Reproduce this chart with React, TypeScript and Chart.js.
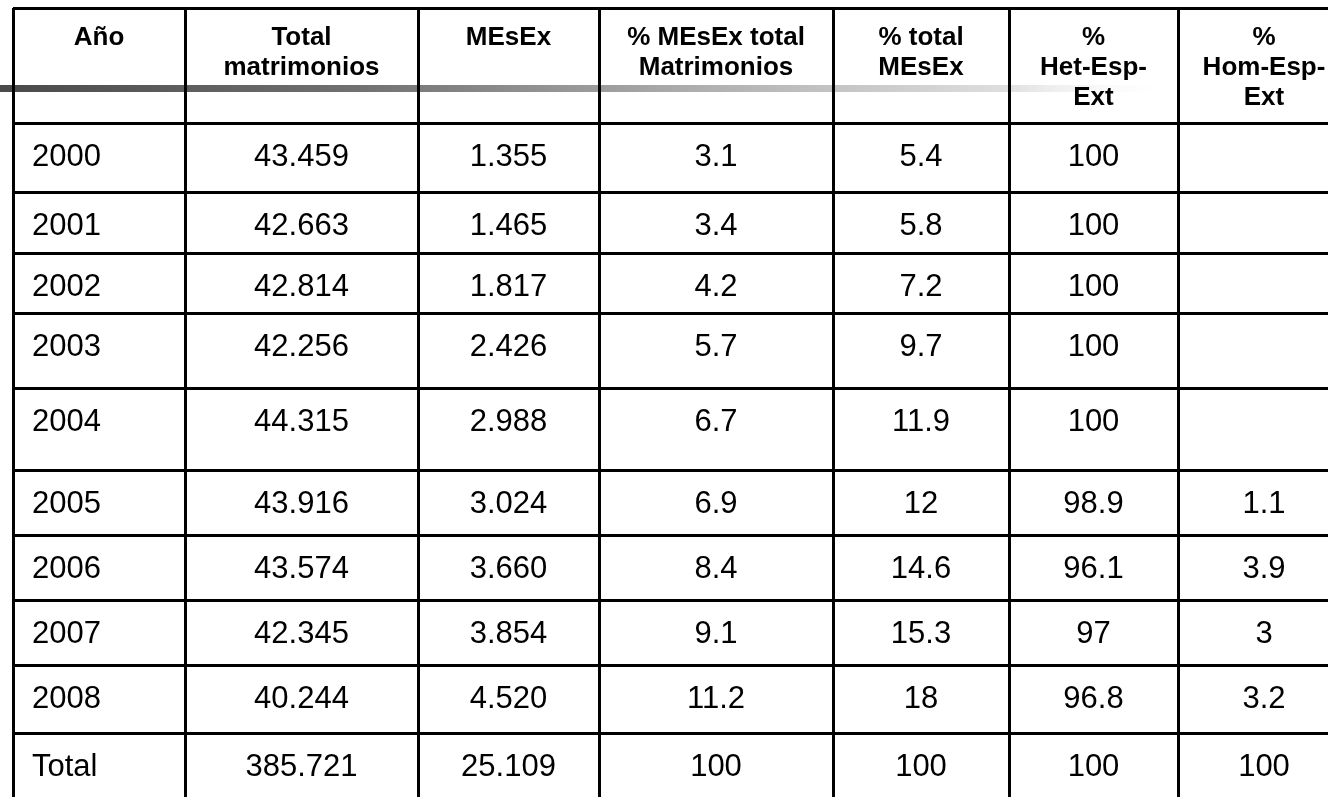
import React, { useEffect, useRef } from "react";
import { Chart, registerables } from "chart.js";

Chart.register(...registerables);

// ---------- data ----------
const headerLabels: string[][] = [
  ["Año"],
  ["Total", "matrimonios"],
  ["MEsEx"],
  ["% MEsEx total", "Matrimonios"],
  ["% total", "MEsEx"],
  ["%", "Het-Esp-", "Ext"],
  ["%", "Hom-Esp-", "Ext"],
];
const years: string[] = ["2000", "2001", "2002", "2003", "2004", "2005", "2006", "2007", "2008", "Total"];
const totalMatrimonios: number[] = [43459, 42663, 42814, 42256, 44315, 43916, 43574, 42345, 40244, 385721];
const mesex: number[] = [1355, 1465, 1817, 2426, 2988, 3024, 3660, 3854, 4520, 25109];
const pctMesexMatrimonios: number[] = [3.1, 3.4, 4.2, 5.7, 6.7, 6.9, 8.4, 9.1, 11.2, 100];
const pctTotalMesex: number[] = [5.4, 5.8, 7.2, 9.7, 11.9, 12, 14.6, 15.3, 18, 100];
const pctHetEspExt: number[] = [100, 100, 100, 100, 100, 98.9, 96.1, 97, 96.8, 100];
const pctHomEspExt: (number | null)[] = [null, null, null, null, null, 1.1, 3.9, 3, 3.2, 100];

// ---------- layout ----------
const W = 1328;
const H = 797;
const LEFT = 13;
const TOP = 8;
const colWidths = [172, 233, 181, 234, 176, 169, 172];
const rowHeights = [115, 69, 61, 60, 75, 82, 65, 65, 65, 68, 80];
const DATA_FONT = "31px 'Liberation Sans', Arial, sans-serif";
const HEAD_FONT = "bold 26px 'Liberation Sans', Arial, sans-serif";

const cum = (arr: number[]) => {
  const out = [0];
  arr.forEach((v) => out.push(out[out.length - 1] + v));
  return out;
};
const colEdges = cum(colWidths);
const rowEdges = cum(rowHeights);
const X_MAX = W - LEFT;
const Y_MAX = H - TOP;

const fmtThousands = (n: number) => String(n).replace(/\B(?=(\d{3})+(?!\d))/g, ".");
const fmt = (n: number | null) => (n === null ? "" : String(n));

const columnTexts: string[][] = [
  years,
  totalMatrimonios.map(fmtThousands),
  mesex.map(fmtThousands),
  pctMesexMatrimonios.map(fmt),
  pctTotalMesex.map(fmt),
  pctHetEspExt.map(fmt),
  pctHomEspExt.map(fmt),
];

const tablePlugin = {
  id: "tableText",
  beforeDraw(chart: any) {
    const { ctx } = chart;
    const ys = chart.scales.y;
    const y0 = ys.getPixelForValue(77);
    const y1 = ys.getPixelForValue(84);
    const g = ctx.createLinearGradient(0, 0, 1180, 0);
    g.addColorStop(0, "#4a4a4a");
    g.addColorStop(0.3, "#707070");
    g.addColorStop(0.6, "#b0b0b0");
    g.addColorStop(0.85, "#dedede");
    g.addColorStop(1, "rgba(255,255,255,0)");
    ctx.save();
    ctx.fillStyle = g;
    ctx.fillRect(0, y0, 1180, y1 - y0);
    ctx.restore();
  },
  afterDatasetsDraw(chart: any) {
    const { ctx } = chart;
    const xs = chart.scales.x;
    ctx.save();
    ctx.fillStyle = "#000";
    ctx.textBaseline = "alphabetic";
    chart.data.datasets.forEach((ds: any, di: number) => {
      const meta = chart.getDatasetMeta(di);
      meta.data.forEach((el: any, j: number) => {
        const lines: string[] = ds.cellText[j];
        const isHeader = ds.isHeader;
        ctx.font = isHeader ? HEAD_FONT : DATA_FONT;
        let x = el.x;
        if (!isHeader && ds.colIndex === 0) {
          ctx.textAlign = "left";
          x = xs.getPixelForValue(colEdges[0]) + 19;
        } else {
          ctx.textAlign = "center";
        }
        lines.forEach((t, k) => {
          const y = isHeader ? el.y + 37 + k * 30 : el.y + 43;
          ctx.fillText(t, x, y);
        });
      });
    });
    ctx.restore();
  },
};

export default function App() {
  const ref = useRef<HTMLCanvasElement | null>(null);
  useEffect(() => {
    if (!ref.current) return;
    const colCenter = (c: number) => (colEdges[c] + colEdges[c + 1]) / 2;
    const datasets: any[] = [
      {
        label: "header",
        isHeader: true,
        cellText: headerLabels,
        data: headerLabels.map((_, c) => ({ x: colCenter(c), y: rowEdges[0] })),
        pointRadius: 0,
        showLine: false,
      },
      ...columnTexts.map((texts, c) => ({
        label: "col" + c,
        colIndex: c,
        isHeader: false,
        cellText: texts.map((t) => [t]),
        data: texts.map((_, r) => ({ x: colCenter(c), y: rowEdges[r + 1] })),
        pointRadius: 0,
        showLine: false,
      })),
    ];
    const edgeTicks = (edges: number[], max: number) => (scale: any) => {
      scale.ticks = edges.filter((v) => v <= max).map((v) => ({ value: v }));
    };
    const chart = new Chart(ref.current, {
      type: "scatter",
      data: { datasets },
      options: {
        animation: false,
        responsive: false,
        events: [],
        layout: { padding: { left: LEFT, top: TOP, right: 0, bottom: 0 } },
        plugins: { legend: { display: false }, tooltip: { enabled: false } },
        scales: {
          x: {
            type: "linear",
            min: 0,
            max: X_MAX,
            afterBuildTicks: edgeTicks(colEdges, X_MAX),
            ticks: { display: false },
            border: { display: false },
            grid: { color: "#000", lineWidth: 3, drawTicks: false },
          },
          y: {
            type: "linear",
            reverse: true,
            min: 0,
            max: Y_MAX,
            afterBuildTicks: edgeTicks(rowEdges, Y_MAX),
            ticks: { display: false },
            border: { display: false },
            grid: { color: "#000", lineWidth: 3, drawTicks: false },
          },
        },
      },
      plugins: [tablePlugin],
    } as any);
    return () => chart.destroy();
  }, []);
  return (
    <div style={{ position: "fixed", left: 0, top: 0, width: W, height: H, background: "#fff" }}>
      <canvas ref={ref} width={W} height={H} style={{ display: "block", width: W, height: H }} />
    </div>
  );
}
